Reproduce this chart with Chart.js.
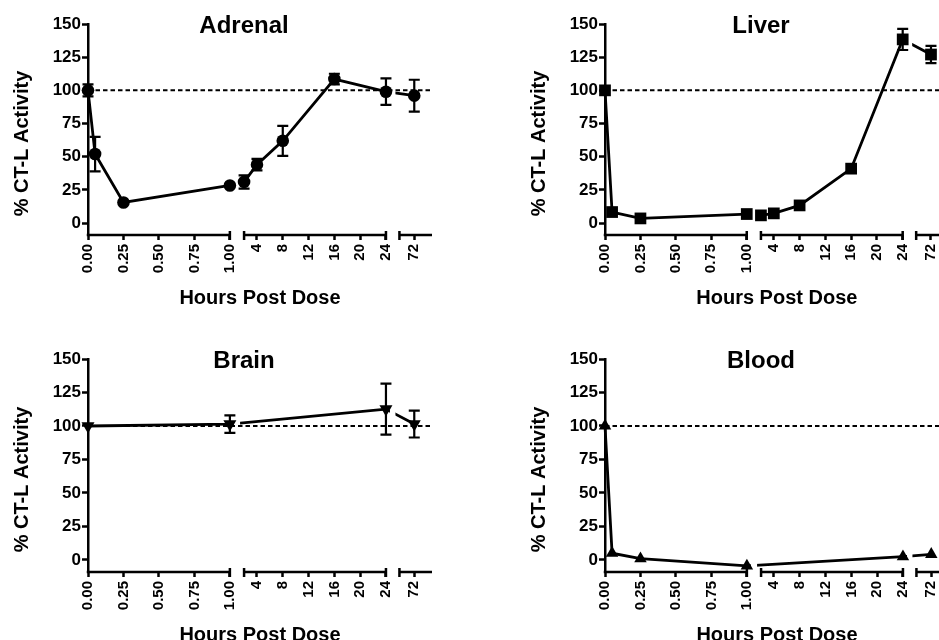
<!DOCTYPE html>
<html>
<head>
<meta charset="utf-8">
<title>CT-L activity after dosing</title>
<script src="https://cdn.jsdelivr.net/npm/chart.js@4/dist/chart.umd.min.js"></script>
<style>
    html, body { margin: 0; padding: 0; background: #fff; }
    body { width: 939px; height: 640px; overflow: hidden; position: relative; }
    canvas { position: absolute; }
</style>
</head>
<body>
<canvas id="adrenal"></canvas>
<canvas id="liver"></canvas>
<canvas id="brain"></canvas>
<canvas id="blood"></canvas>
<script>
"use strict";

const xTickHours = [0, 0.25, 0.5, 0.75, 1, 4, 8, 12, 16, 20, 24, 72];
const xTickLabels = ['0.00', '0.25', '0.50', '0.75', '1.00', '4', '8', '12', '16', '20', '24', '72'];
const yTicks = [0, 25, 50, 75, 100, 125, 150];
const controlLevel = 100;

const adrenalHours = [0, 0.05, 0.25, 1, 2, 4, 8, 16, 24, 72];
const adrenalValues = [100, 52, 15.5, 28.3, 31, 44, 62, 108.5, 99, 96];
const adrenalErrors = [4.5, 13, 0, 0, 5, 4.3, 11.3, 4, 10, 12];

const liverHours = [0, 0.05, 0.25, 1, 2, 4, 8, 16, 24, 72];
const liverValues = [100, 8.3, 3.5, 6.8, 5.8, 7.3, 13.3, 41, 138.4, 127];
const liverErrors = [0, 0, 0, 0, 0, 0, 0, 0, 8, 6.5];

const brainHours = [0, 1, 24, 72];
const brainValues = [100, 101.4, 112.6, 101.4];
const brainErrors = [0, 6.5, 19, 10];

const bloodHours = [0, 0.05, 0.25, 1, 24, 72];
const bloodValues = [100, 5, 1, -4.5, 2.5, 4.2];
const bloodErrors = [0, 0, 0, 0, 0, 0];

// x axis is cut in three pieces, hours are placed along it piece by piece
const axisPieces = [
    { from: 0, to: 1, start: 0, size: 1 },
    { from: 2, to: 24, start: 1.1, size: 1 },
    { from: 69.7, to: 74.75, start: 2.195, size: 0.2295 }
];
const axisEnd = 2.4245;

function toAxis(h) {
    const piece = axisPieces.find(p => h >= p.from && h <= p.to) || axisPieces[axisPieces.length - 1];
    return piece.start + (h - piece.from) / (piece.to - piece.from) * piece.size;
}

const FONT = '"Liberation Sans", Arial, sans-serif';
Chart.defaults.font.family = FONT;
Chart.defaults.color = '#000';

const panelText = {
    id: 'panelText',
    afterDraw(chart, args, opts) {
        const { ctx, chartArea } = chart;
        ctx.save();
        ctx.fillStyle = '#000';
        ctx.textAlign = 'center';
        ctx.textBaseline = 'middle';
        ctx.font = 'bold 24px ' + FONT;
        ctx.fillText(opts.title, chartArea.left + 156, chartArea.top + 2);
        ctx.font = 'bold 20px ' + FONT;
        ctx.translate(22, (chartArea.top + chartArea.bottom) / 2 + 14);
        ctx.rotate(-Math.PI / 2);
        ctx.fillText(opts.yTitle, 0, 0);
        ctx.restore();
    }
};

const brokenAxis = {
    id: 'brokenAxis',
    beforeDatasetsDraw(chart) {
        const { ctx, chartArea, scales: { x } } = chart;
        const y0 = chartArea.bottom;
        ctx.save();
        ctx.strokeStyle = '#000';
        ctx.lineWidth = 2.5;
        axisPieces.forEach((piece, i) => {
            const a = x.getPixelForValue(piece.start);
            const b = x.getPixelForValue(piece.start + piece.size);
            ctx.beginPath();
            ctx.moveTo(i === 0 ? a - 1.25 : a, y0);
            ctx.lineTo(b, y0);
            // little brackets where the axis is cut
            if (i > 0) {
                ctx.moveTo(a, y0 - 4);
                ctx.lineTo(a, y0 + 5);
            }
            if (i < axisPieces.length - 1) {
                ctx.moveTo(b, y0 - 4);
                ctx.lineTo(b, y0 + 5);
            }
            ctx.stroke();
        });
        ctx.restore();
    },
    beforeDatasetDraw(chart, args) {
        if (!chart.data.datasets[args.index].cutAtBreaks) return;
        const { ctx, scales: { x } } = chart;
        ctx.save();
        ctx.beginPath();
        axisPieces.forEach(piece => {
            const a = x.getPixelForValue(piece.start) - 4;
            const b = x.getPixelForValue(piece.start + piece.size) + 4;
            ctx.rect(a, 0, b - a, chart.height);
        });
        ctx.clip();
    },
    afterDatasetDraw(chart, args) {
        if (chart.data.datasets[args.index].cutAtBreaks) chart.ctx.restore();
    },
    afterDatasetsDraw(chart) {
        const { ctx, scales: { x, y } } = chart;
        ctx.save();
        ctx.strokeStyle = '#000';
        ctx.lineWidth = 2.2;
        chart.data.datasets.forEach(ds => {
            if (!ds.errors) return;
            ds.data.forEach((pt, i) => {
                const e = ds.errors[i];
                if (!e) return;
                const px = x.getPixelForValue(pt.x);
                const top = y.getPixelForValue(pt.y + e);
                const bottom = y.getPixelForValue(pt.y - e);
                ctx.beginPath();
                ctx.moveTo(px, top);
                ctx.lineTo(px, bottom);
                ctx.moveTo(px - 5.5, top);
                ctx.lineTo(px + 5.5, top);
                ctx.moveTo(px - 5.5, bottom);
                ctx.lineTo(px + 5.5, bottom);
                ctx.stroke();
            });
        });
        ctx.restore();
    }
};

const panels = [
    { id: 'adrenal', title: 'Adrenal', hours: adrenalHours, values: adrenalValues, errors: adrenalErrors,
      marker: 'circle', radius: 6.3, rotation: 0, left: 0, top: 0, plotTop: 24, plotBottom: 235 },
    { id: 'liver', title: 'Liver', hours: liverHours, values: liverValues, errors: liverErrors,
      marker: 'rect', radius: 8.3, rotation: 0, left: 517, top: 0, plotTop: 24, plotBottom: 235 },
    { id: 'brain', title: 'Brain', hours: brainHours, values: brainValues, errors: brainErrors,
      marker: 'triangle', radius: 7.5, rotation: 180, left: 0, top: 320, plotTop: 39, plotBottom: 252 },
    { id: 'blood', title: 'Blood', hours: bloodHours, values: bloodValues, errors: bloodErrors,
      marker: 'triangle', radius: 7.2, rotation: 0, left: 517, top: 320, plotTop: 39, plotBottom: 252 }
];

function makePanel(p) {
    const canvas = document.getElementById(p.id);
    canvas.width = 440;
    canvas.height = p.plotBottom + 80;
    canvas.style.left = p.left + 'px';
    canvas.style.top = p.top + 'px';

    const points = p.hours.map((h, i) => ({ x: toAxis(h), y: p.values[i] }));

    new Chart(canvas.getContext('2d'), {
        type: 'scatter',
        data: {
            datasets: [
                {
                    data: points,
                    errors: p.errors,
                    showLine: false,
                    pointStyle: p.marker,
                    pointRadius: p.radius,
                    pointRotation: p.rotation,
                    backgroundColor: '#000',
                    borderColor: '#000',
                    borderWidth: 0,
                    clip: false,
                    order: 0
                },
                {
                    data: points,
                    showLine: true,
                    cutAtBreaks: true,
                    pointRadius: 0,
                    borderColor: '#000',
                    borderWidth: 2.8,
                    clip: false,
                    order: 1
                },
                {
                    data: [{ x: 0, y: controlLevel }, { x: axisEnd, y: controlLevel }],
                    showLine: true,
                    pointRadius: 0,
                    borderColor: '#000',
                    borderWidth: 2,
                    borderDash: [4.5, 3],
                    clip: false,
                    order: 2
                }
            ]
        },
        options: {
            responsive: false,
            animation: false,
            events: [],
            layout: { padding: { top: p.plotTop, right: 8, left: 0, bottom: 0 } },
            plugins: {
                legend: { display: false },
                tooltip: { enabled: false },
                panelText: { title: p.title, yTitle: '% CT-L Activity' }
            },
            scales: {
                x: {
                    type: 'linear',
                    min: 0,
                    max: axisEnd,
                    afterBuildTicks: s => { s.ticks = xTickHours.map(h => ({ value: toAxis(h) })); },
                    afterFit: s => { s.height = 80; s.paddingLeft = 0; s.paddingRight = 0; },
                    border: { display: false },
                    grid: { drawOnChartArea: false, tickLength: 5, tickWidth: 2.5, color: '#000' },
                    ticks: {
                        autoSkip: false,
                        maxRotation: 90,
                        minRotation: 90,
                        padding: 4,
                        color: '#000',
                        font: { size: 15, weight: 'bold' },
                        callback: (v, i) => xTickLabels[i]
                    },
                    title: {
                        display: true,
                        text: 'Hours Post Dose',
                        color: '#000',
                        font: { size: 20, weight: 'bold' },
                        padding: { top: 0, bottom: 5 }
                    }
                },
                y: {
                    type: 'linear',
                    min: -9,
                    max: 150,
                    afterBuildTicks: s => { s.ticks = yTicks.map(v => ({ value: v })); },
                    afterFit: s => { s.width = 88; s.paddingTop = 0; s.paddingBottom = 0; },
                    border: { display: true, color: '#000', width: 2.5 },
                    grid: { drawOnChartArea: false, tickLength: 6, tickWidth: 2.5, color: '#000' },
                    ticks: { padding: 1, color: '#000', font: { size: 17, weight: 'bold' } }
                }
            }
        },
        plugins: [brokenAxis, panelText]
    });
}

panels.forEach(makePanel);
</script>
</body>
</html>
